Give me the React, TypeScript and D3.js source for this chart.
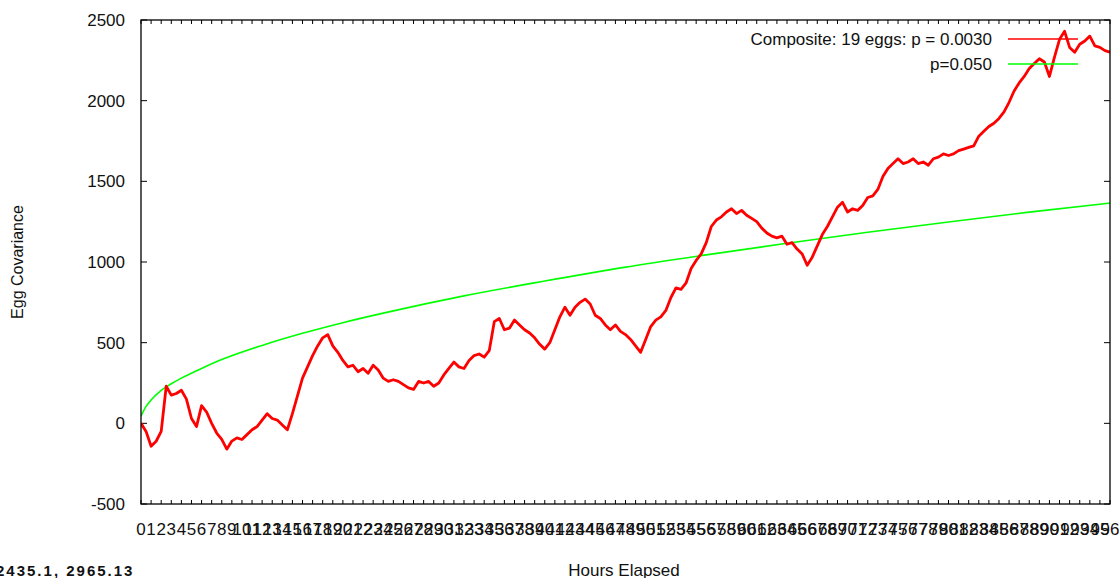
import React from "react";
import * as d3 from "d3";

// Hours 0..96 as tick labels
const hourTicks: number[] = d3.range(0, 97);
const yTicks: number[] = [-500, 0, 500, 1000, 1500, 2000, 2500];

const compositeStep = 0.5;
const compositeValues: number[] = [
  0, -50, -142, -111, -50, 230, 175, 185, 205, 150,
  30, -20, 110, 70, 0, -60, -100, -160, -110, -90,
  -100, -70, -40, -20, 20, 60, 30, 20, -10, -40,
  60, 170, 280, 350, 420, 480, 530, 550, 480, 440,
  390, 350, 360, 320, 340, 310, 360, 330, 280, 260,
  270, 260, 240, 220, 210, 260, 250, 260, 230, 250,
  300, 340, 380, 350, 340, 390, 420, 430, 410, 450,
  630, 650, 580, 590, 640, 610, 580, 560, 530, 490,
  460, 500, 580, 660, 720, 670, 720, 750, 770, 740,
  670, 650, 610, 580, 610, 570, 550, 520, 480, 440,
  520, 600, 640, 660, 700, 780, 840, 830, 870, 960,
  1010, 1050, 1120, 1220, 1260, 1280, 1310, 1330, 1300, 1320,
  1290, 1270, 1250, 1210, 1180, 1160, 1150, 1160, 1110, 1120,
  1080, 1050, 980, 1030, 1100, 1170, 1220, 1280, 1340, 1370,
  1310, 1330, 1320, 1350, 1400, 1410, 1450, 1530, 1580, 1610,
  1640, 1610, 1620, 1640, 1610, 1620, 1600, 1640, 1650, 1670,
  1660, 1670, 1690, 1700, 1710, 1720, 1780, 1810, 1840, 1860,
  1890, 1930, 1990, 2060, 2110, 2150, 2200, 2230, 2260, 2240,
  2150, 2270, 2380, 2430, 2330, 2300, 2350, 2370, 2400, 2340,
  2330, 2310, 2300,
];

// p = 0.050 threshold curve
const thresholdHours: number[] = [0, 0.5, 1, 2, 3, 4, 6, 8, 12, 16, 20, 24, 32, 40, 48, 56, 64, 72, 80, 88, 96];
const thresholdValues: number[] = [45, 105, 145, 205, 245, 280, 340, 395, 483, 558, 624, 683, 790, 882, 968, 1044, 1116, 1184, 1248, 1309, 1365];

const legendLabels: string[] = ["Composite: 19 eggs: p = 0.0030", "p=0.050"];
const legendColors: string[] = ["#ff0000", "#00ff00"];

const W = 1119;
const H = 578;
const M = { left: 141, right: 1110, top: 20, bottom: 504 };
const FONT = "'Liberation Sans', Arial, sans-serif";
const FS = 17;

export default function App() {
  const x = d3.scaleLinear().domain([0, 96]).range([M.left, M.right]);
  const y = d3.scaleLinear().domain([-500, 2500]).range([M.bottom, M.top]);

  const redLine = d3
    .line<number>()
    .x((_, i) => x(i * compositeStep))
    .y((d) => y(d));
  const greenLine = d3
    .line<number>()
    .x((_, i) => x(thresholdHours[i]))
    .y((d) => y(d))
    .curve(d3.curveMonotoneX);

  return (
    <svg
      width={W}
      height={H}
      style={{ position: "absolute", left: 0, top: 0, background: "#fff" }}
      fontFamily={FONT}
    >
      <defs>
        <clipPath id="plot">
          <rect x={M.left} y={M.top} width={M.right - M.left} height={M.bottom - M.top} />
        </clipPath>
      </defs>
      {/* y ticks */}
      {yTicks.map((t) => (
        <g key={"y" + t}>
          <line x1={M.left} x2={M.left + 6} y1={y(t)} y2={y(t)} stroke="#000" />
          <line x1={M.right} x2={M.right - 6} y1={y(t)} y2={y(t)} stroke="#000" />
          <text x={125} y={y(t)} dy="0.36em" textAnchor="end" fontSize={FS} fill="#111">
            {t}
          </text>
        </g>
      ))}
      {/* x ticks */}
      {hourTicks.map((t) => (
        <g key={"x" + t}>
          <line x1={x(t)} x2={x(t)} y1={M.bottom} y2={M.bottom - 4} stroke="#000" />
          <line x1={x(t)} x2={x(t)} y1={M.top} y2={M.top + 4} stroke="#000" />
          <text x={x(t)} y={535} textAnchor="middle" fontSize={FS} fill="#111">
            {t}
          </text>
        </g>
      ))}
      <g clipPath="url(#plot)">
        <path d={greenLine(thresholdValues) || ""} fill="none" stroke="#00ff00" strokeWidth={1.6} />
        <path d={redLine(compositeValues) || ""} fill="none" stroke="#ff0000" strokeWidth={2.8} strokeLinejoin="round" />
      </g>
      {/* legend */}
      {legendLabels.map((l, i) => (
        <g key={l}>
          <text x={992} y={45 + i * 25} textAnchor="end" fontSize={FS} fill="#111">
            {l}
          </text>
          <line x1={1008} x2={1078} y1={39 + i * 25} y2={39 + i * 25} stroke={legendColors[i]} strokeWidth={1.6} />
        </g>
      ))}
      {/* frame */}
      <rect
        x={M.left}
        y={M.top}
        width={M.right - M.left}
        height={M.bottom - M.top}
        fill="none"
        stroke="#000"
        strokeWidth={1.3}
      />
      {/* axis titles */}
      <text x={624} y={576} textAnchor="middle" fontSize={FS} fill="#111">
        Hours Elapsed
      </text>
      <text
        transform={`translate(23, ${262}) rotate(-90)`}
        textAnchor="middle"
        fontSize={16}
        fill="#111"
      >
        Egg Covariance
      </text>
      <text x={-4} y={576} fontSize={15} fontWeight="bold" letterSpacing={2} fill="#111">
        2435.1, 2965.13
      </text>
    </svg>
  );
}
